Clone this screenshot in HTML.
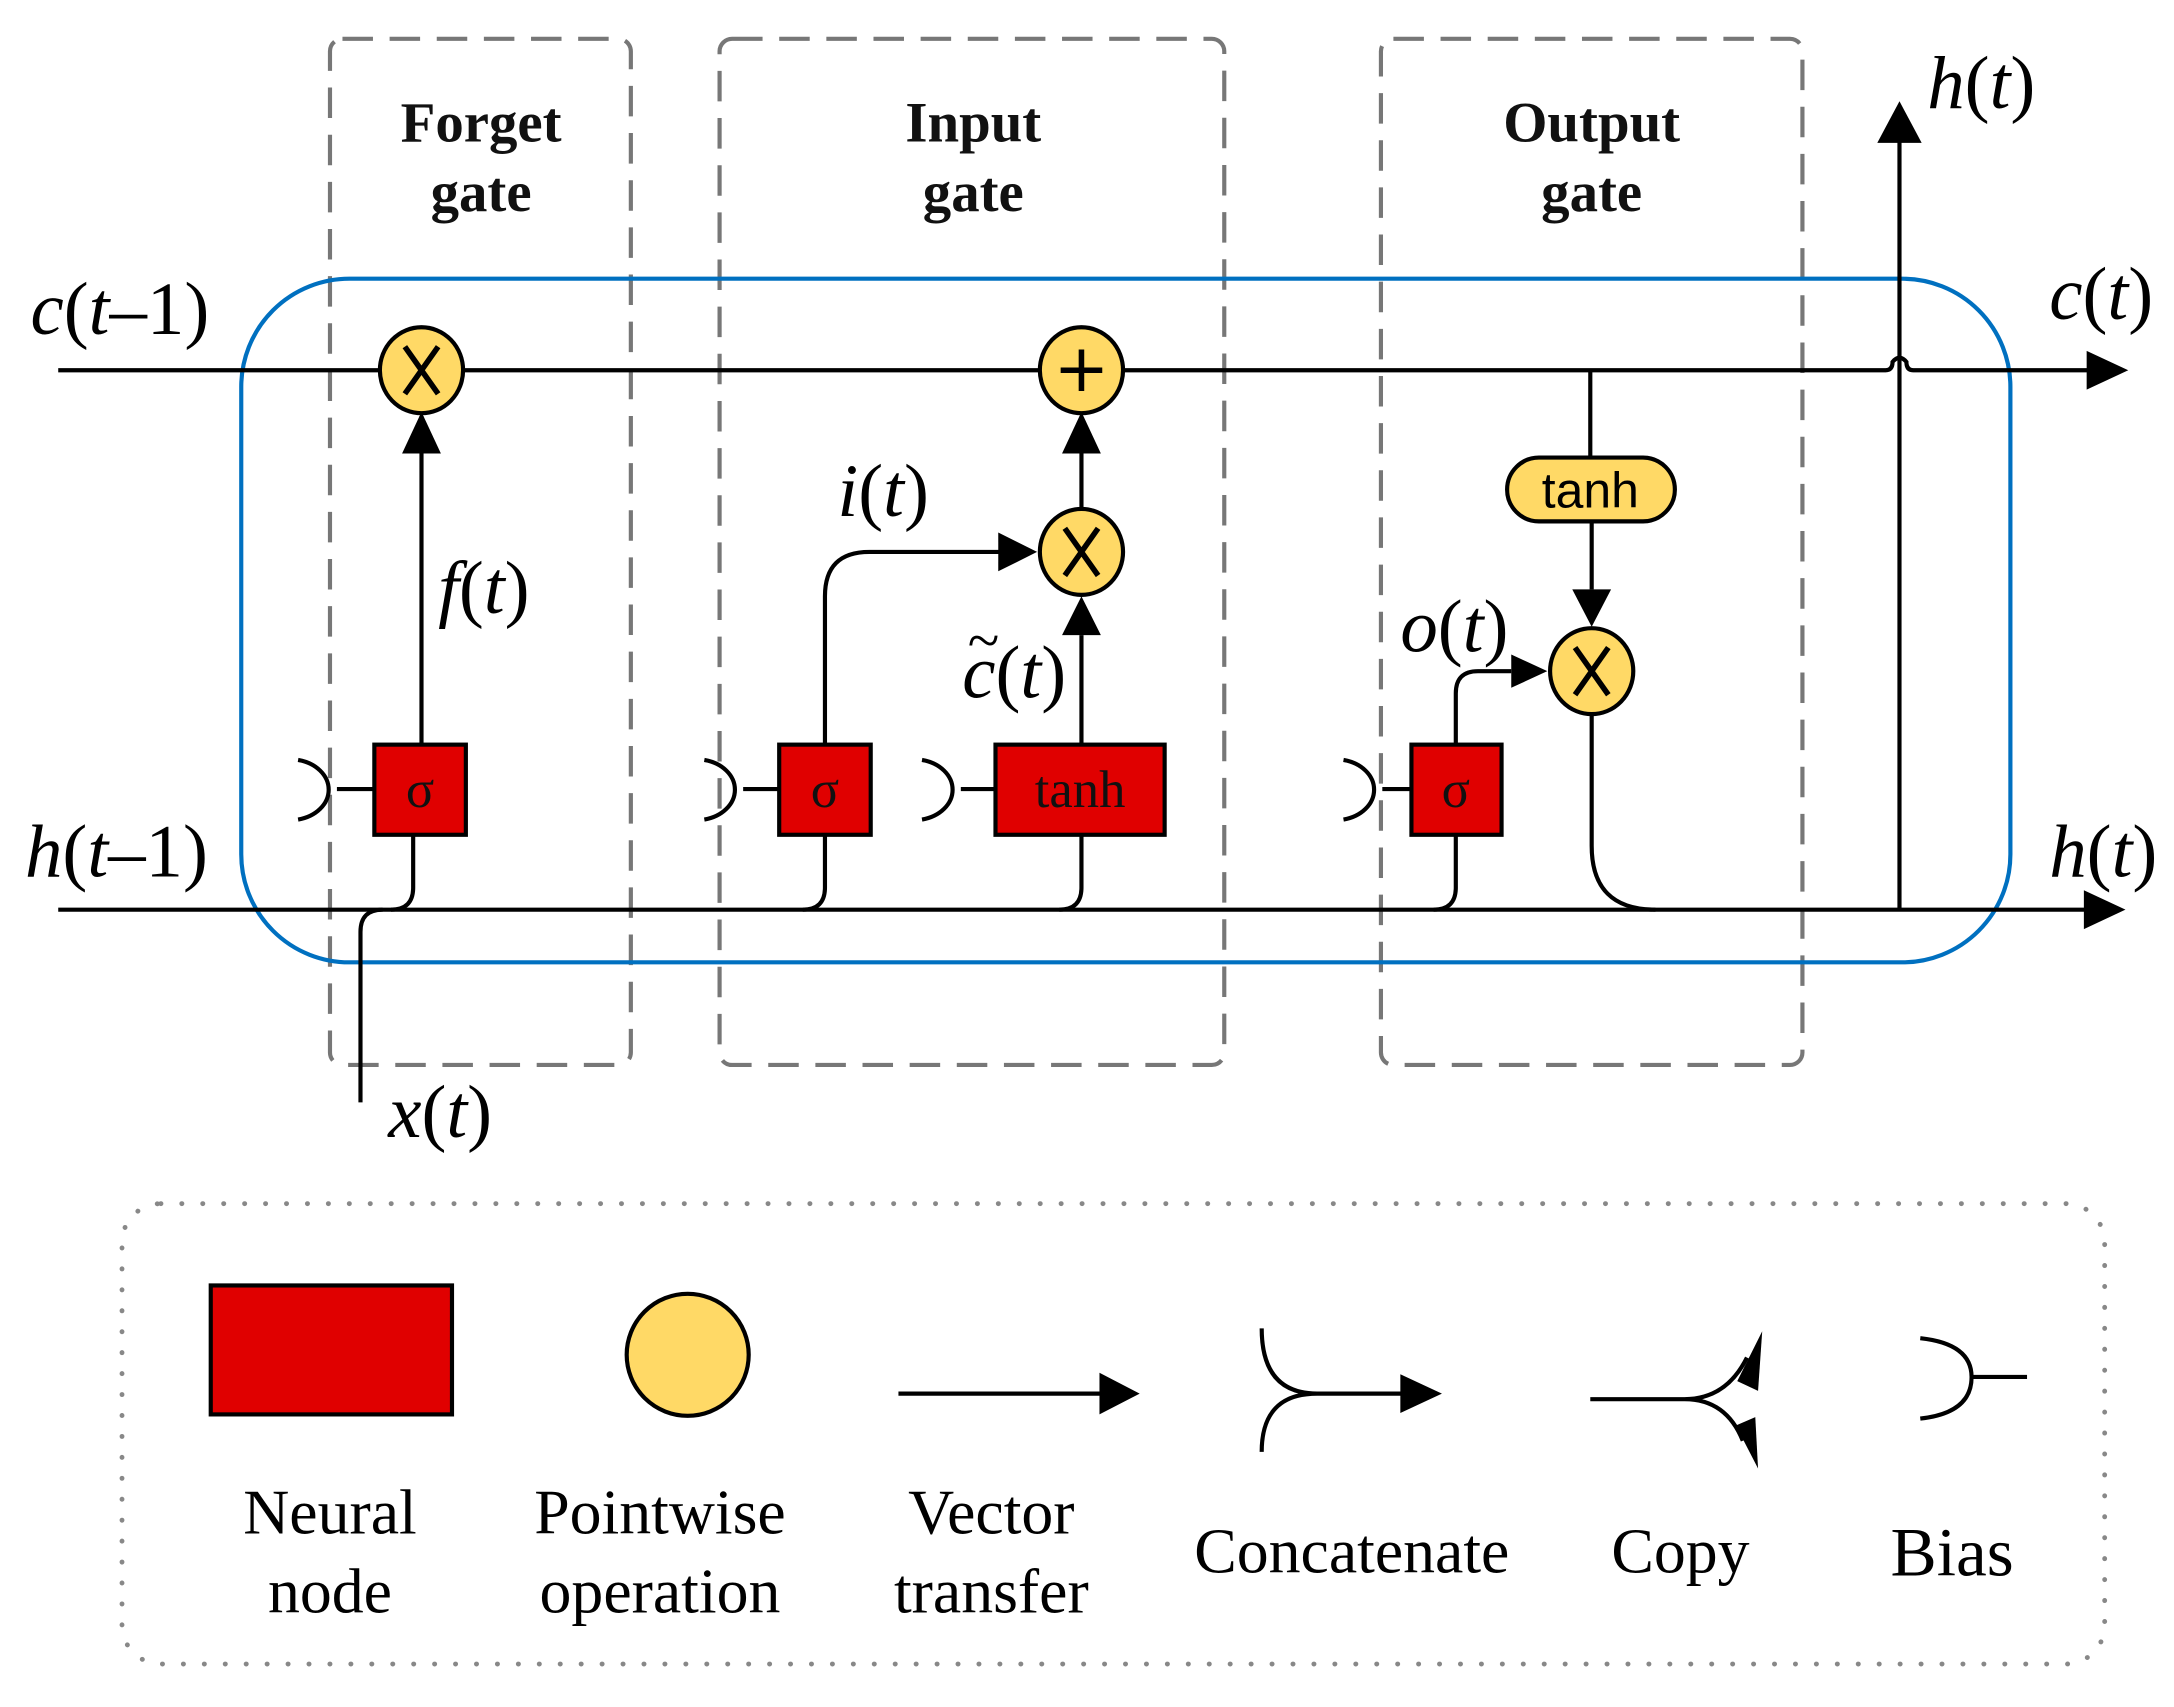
<!DOCTYPE html>
<html><head><meta charset="utf-8"><style>html,body{margin:0;padding:0;background:#fff}svg{display:block}</style></head><body>
<svg width="2174" height="1707" viewBox="0 0 1568 1231" preserveAspectRatio="none" xmlns="http://www.w3.org/2000/svg" font-family="Liberation Serif, serif">
<g fill="none" stroke="#777" stroke-width="3" stroke-dasharray="22,12">
<rect x="238" y="28" width="217" height="740" rx="9"/>
<rect x="519" y="28" width="364" height="740" rx="9"/>
<rect x="996" y="28" width="304" height="740" rx="9"/>
</g>
<rect x="174" y="201" width="1276" height="493" rx="78" fill="none" stroke="#0070c0" stroke-width="3"/>
<g font-weight="bold" font-size="41" text-anchor="middle" fill="#111">
<text x="347" y="102">Forget</text><text x="347" y="152">gate</text>
<text x="702" y="102">Input</text><text x="702" y="152">gate</text>
<text x="1148" y="102">Output</text><text x="1148" y="152">gate</text>
</g>
<g fill="none" stroke="#000" stroke-width="3">
<path d="M42,267H1360q5,0 5,-6q5,-6 10,0q0,6 5,6H1510"/>
<path d="M42,656H1508"/>
<path d="M304,537V300"/>
<path d="M298,602V640q0,16 -16,16"/>
<path d="M260,795V672q0,-16 16,-16"/>
<path d="M595,537V430q0,-32 32,-32H722"/>
<path d="M595,602V640q0,16 -16,16"/>
<path d="M780,537V458"/>
<path d="M780,602V640q0,16 -16,16"/>
<path d="M780,366V326"/>
<path d="M1147,267V330"/>
<path d="M1148,376V425"/>
<path d="M1050,537V500q0,-16 16,-16H1090"/>
<path d="M1050,602V640q0,16 -16,16"/>
<path d="M1148,516V610q0,46 46,46"/>
<path d="M1370,656V100"/>
</g>
<g fill="#000">
<path d="M1505,253L1535,267L1505,281z"/>
<path d="M1503,642L1533,656L1503,670z"/>
<path d="M290,327L304,297L318,327z"/>
<path d="M766,327L780,297L794,327z"/>
<path d="M766,458L780,430L794,458z"/>
<path d="M720,384L748,398L720,412z"/>
<path d="M1134,425L1148,452L1162,425z"/>
<path d="M1090,472L1116,484L1090,496z"/>
<path d="M1354,103L1370,73L1386,103z"/>
</g>
<g fill="#ffd966" stroke="#000" stroke-width="3">
<ellipse cx="304" cy="267" rx="30" ry="31"/>
<ellipse cx="780" cy="267" rx="30" ry="31"/>
<ellipse cx="780" cy="398" rx="30" ry="31"/>
<ellipse cx="1148" cy="484" rx="30" ry="31"/>
<rect x="1087" y="330" width="121" height="46" rx="23"/>
</g>
<g stroke="#000" stroke-width="4" fill="none">
<path d="M292,250L316,284M316,250L292,284"/>
<path d="M768,381L792,415M792,381L768,415"/>
<path d="M1136,467L1160,501M1160,467L1136,501"/>
<path d="M780,252V282M765,267H795"/>
</g>
<text x="1147" y="366" font-size="36" text-anchor="middle" font-family="Liberation Sans, sans-serif">tanh</text>
<g fill="#e00000" stroke="#000" stroke-width="3">
<rect x="270" y="537" width="66" height="65"/>
<rect x="562" y="537" width="66" height="65"/>
<rect x="718" y="537" width="122" height="65"/>
<rect x="1018" y="537" width="65" height="65"/>
</g>
<g font-size="38" text-anchor="middle" fill="#111">
<text x="303" y="582">σ</text><text x="595" y="582">σ</text><text x="779" y="582">tanh</text><text x="1050" y="582">σ</text>
</g>
<g fill="none" stroke="#000" stroke-width="3">
<path d="M215,548a28,22 0 0 1 0,43M243,569H270"/>
<path d="M508,548a28,22 0 0 1 0,43M536,569H562"/>
<path d="M665,548a28,22 0 0 1 0,43M693,569H718"/>
<path d="M969,548a28,22 0 0 1 0,43M997,569H1018"/>
</g>
<g font-size="54" fill="#000" font-style="italic">
<text x="22" y="241">c<tspan font-style="normal">(</tspan>t<tspan font-style="normal">–1)</tspan></text>
<text x="18" y="632">h<tspan font-style="normal">(</tspan>t<tspan font-style="normal">–1)</tspan></text>
<text x="1390" y="78">h<tspan font-style="normal">(</tspan>t<tspan font-style="normal">)</tspan></text>
<text x="1478" y="230">c<tspan font-style="normal">(</tspan>t<tspan font-style="normal">)</tspan></text>
<text x="1478" y="632">h<tspan font-style="normal">(</tspan>t<tspan font-style="normal">)</tspan></text>
<text x="316" y="442">f<tspan font-style="normal">(</tspan>t<tspan font-style="normal">)</tspan></text>
<text x="604" y="372">i<tspan font-style="normal">(</tspan>t<tspan font-style="normal">)</tspan></text>
<text x="694" y="503">c<tspan font-style="normal">(</tspan>t<tspan font-style="normal">)</tspan></text>
<text x="698" y="476" font-style="normal" font-size="42">~</text>
<text x="1010" y="470">o<tspan font-style="normal">(</tspan>t<tspan font-style="normal">)</tspan></text>
<text x="280" y="820">x<tspan font-style="normal">(</tspan>t<tspan font-style="normal">)</tspan></text>
</g>
<rect x="88" y="868" width="1430" height="332" rx="28" fill="none" stroke="#888" stroke-width="3.5" stroke-dasharray="0.1,15" stroke-linecap="round"/>
<rect x="152" y="927" width="174" height="93" fill="#e00000" stroke="#000" stroke-width="3"/>
<circle cx="496" cy="977" r="44" fill="#ffd966" stroke="#000" stroke-width="3"/>
<g fill="none" stroke="#000" stroke-width="3">
<path d="M648,1005H795"/>
<path d="M910,958q0,47 40,47H1012M910,1047q0,-42 40,-42"/>
<path d="M1147,1009H1215q30,0 45,-30M1215,1009q30,0 42,30"/>
<path d="M1385,965q37,4 37,28q0,26 -37,30M1422,993H1462"/>
</g>
<g fill="#000">
<path d="M793,990L822,1005L793,1020z"/>
<path d="M1010,991L1040,1005L1010,1019z"/>
<path d="M1271,960L1268,1003L1253,996z"/>
<path d="M1268,1059L1266,1022L1252,1028z"/>
</g>
<g font-size="46" text-anchor="middle" fill="#000">
<text x="238" y="1106">Neural</text><text x="238" y="1163">node</text>
<text x="476" y="1106">Pointwise</text><text x="476" y="1163">operation</text>
<text x="715" y="1106">Vector</text><text x="715" y="1163">transfer</text>
<text x="975" y="1134">Concatenate</text>
<text x="1212" y="1134">Copy</text>
<text x="1408" y="1136" font-size="50">Bias</text>
</g>
</svg>
</body></html>
